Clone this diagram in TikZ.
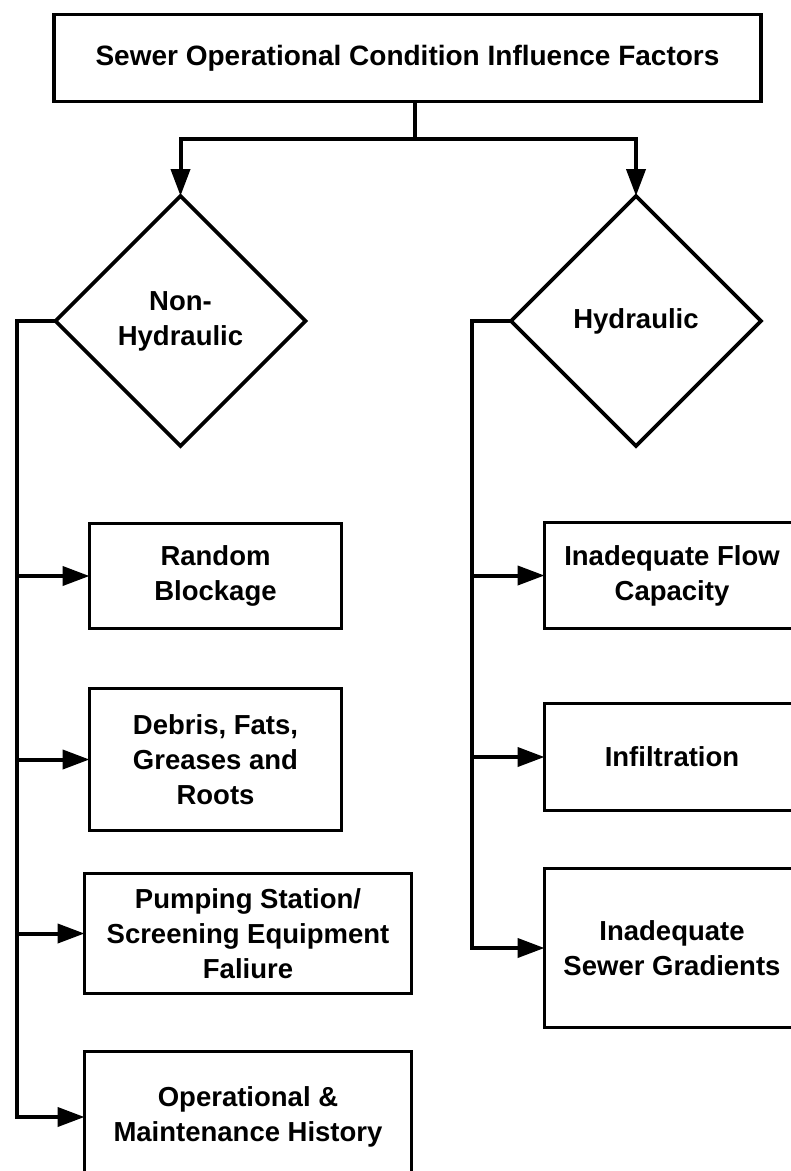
\documentclass[tikz,border=0pt]{standalone}
\usepackage{fontspec}
\setmainfont{Liberation Sans}
\usetikzlibrary{shapes.geometric,arrows.meta}
\begin{document}
\begin{tikzpicture}[x=1pt,y=-1pt,
  every node/.style={font=\bfseries\fontsize{27.5}{35}\selectfont, align=center, inner sep=0pt, outer sep=0pt},
  box/.style={draw, line width=3.8pt, rectangle},
  dia/.style={draw, line width=3.8pt, diamond, minimum width=250pt, minimum height=250pt},
  conn/.style={line width=4pt},
  arr/.style={conn, -{Triangle[length=27pt,width=19pt]}},
  ]
  \useasboundingbox (0,0) rectangle (791,1171);
  \clip (0,0) rectangle (791,1171);

  % title
  \node[box, minimum width=707pt, minimum height=87pt, font=\bfseries\fontsize{28}{35}\selectfont] (top) at (407.5,58)
    {Sewer Operational Condition Influence Factors};

  % decisions
  \node[dia] (nh) at (180.5,321) {Non-\\Hydraulic};
  \node[dia] (hy) at (636,321) {Hydraulic};

  % non-hydraulic factors
  \node[box, minimum width=252pt, minimum height=105pt] (rb) at (215.5,576) {Random\\Blockage};
  \node[box, minimum width=252pt, minimum height=142pt] (df) at (215.5,759.5) {Debris, Fats,\\Greases and\\Roots};
  \node[box, minimum width=327pt, minimum height=120pt] (ps) at (248,933.5) {Pumping Station/\\Screening Equipment\\Faliure};
  \node[box, minimum width=327pt, minimum height=131pt] (op) at (248,1117) {Operational \&\\Maintenance History};

  % hydraulic factors
  \node[box, minimum width=255pt, minimum height=106pt] (fc) at (672,575.5) {Inadequate Flow\\Capacity};
  \node[box, minimum width=255pt, minimum height=107pt] (inf) at (672,757) {Infiltration};
  \node[box, minimum width=255pt, minimum height=159pt] (gr) at (672,948) {Inadequate\\Sewer Gradients};

  % junctions and spines
  \coordinate (split) at (415,139);
  \coordinate (spL) at (17,321);
  \coordinate (spR) at (472,321);

  \draw[conn] (top.south -| split) -- (split);
  \draw[arr] (split) -| (nh.north);
  \draw[arr] (split) -| (hy.north);

  \draw[arr] (nh.west) -- (spL) -- (spL |- op.west) -- (op.west);
  \foreach \n in {rb,df,ps} \draw[arr] (spL |- \n.west) -- (\n.west);

  \draw[arr] (hy.west) -- (spR) -- (spR |- gr.west) -- (gr.west);
  \foreach \n in {fc,inf} \draw[arr] (spR |- \n.west) -- (\n.west);
\end{tikzpicture}
\end{document}
